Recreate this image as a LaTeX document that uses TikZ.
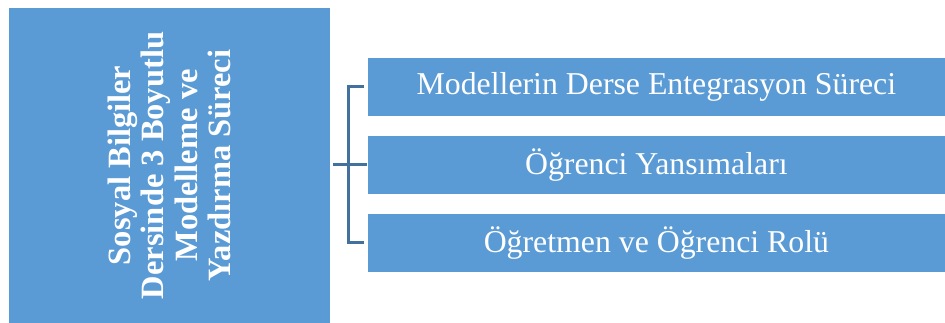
\documentclass[tikz,border=0pt]{standalone}
\usepackage{fontspec}
\setmainfont{Liberation Serif}
\definecolor{boxblue}{HTML}{5B9BD5}
\definecolor{linkblue}{HTML}{41719C}
\begin{document}
\begin{tikzpicture}[x=1pt,y=-1pt,
  bluebox/.style={fill=boxblue,draw=white,line width=0.8pt,inner sep=0pt,text=white},
  subbox/.style={bluebox,minimum width=578pt,minimum height=59pt,anchor=north west,font=\fontsize{31.8}{34}\selectfont},
  link/.style={draw=linkblue,line width=3pt}]
\useasboundingbox (0,0) rectangle (945,323);
\node[bluebox,minimum width=322pt,minimum height=316pt,anchor=north west] (main) at (8,7) {};
\node[text=white,font=\bfseries\fontsize{32.5}{33.3}\selectfont,rotate=90,align=center] (mtext) at (main.center)
  {Sosyal Bilgiler\\Dersinde 3 Boyutlu\\Modelleme ve\\Yazdırma  Süreci};
\node[subbox] (b1) at (367,57) {\raisebox{-1pt}{Modellerin Derse Entegrasyon Süreci}};
\node[subbox] (b2) at (367,135) {\raisebox{-1pt}{Öğrenci Yansımaları}};
\node[subbox] (b3) at (367,213) {\raisebox{-1pt}{Öğretmen ve Öğrenci Rolü}};
\coordinate (bx) at (348,0);
\coordinate (tick) at (333,0);
\draw[link] (b1.west) ++(-3pt,0) -- (bx |- b1.west) -- (bx |- b3.west) -- ++(16pt,0);
\draw[link] (tick |- b2.west) -- (b2.west);
\end{tikzpicture}
\end{document}
